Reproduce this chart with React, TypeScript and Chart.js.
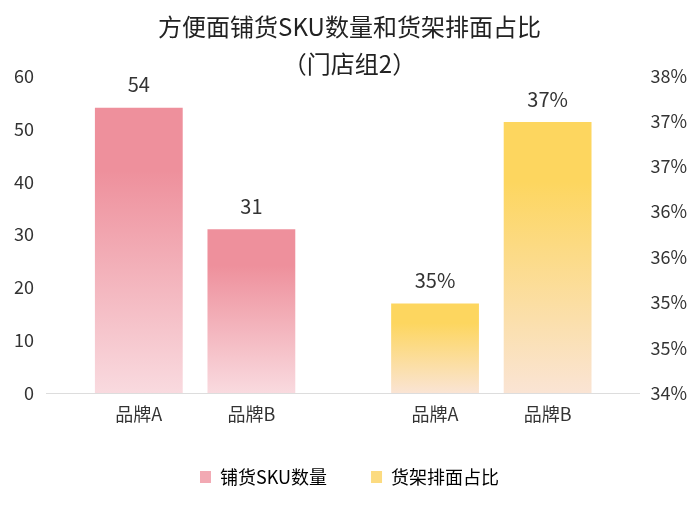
// Grouped bar chart with two y axes: SKU count (left) and shelf share (right)
import { useEffect, useRef } from 'react';
import { Chart, registerables } from 'chart.js';

Chart.register(...registerables);

const FONT = '"Noto Sans CJK SC", "Noto Sans", sans-serif';

// Data
const groups = ['铺货SKU数量', '货架排面占比'];
const brands = ['品牌A', '品牌B'];
const skuCounts = [54, 31];
const shelfShares = [35.13, 37.42]; // percent
const skuTicks = [0, 10, 20, 30, 40, 50, 60];
const shareTicks = [34, 34.57, 35.14, 35.71, 36.29, 36.86, 37.43, 38];

// top colour, bottom colour of each series' fade
const pinkFade = ['#EE909C', '#F9DADF'];
const yellowFade = ['#FDD65F', '#FAE4D4'];

const fadeFill = (stops: string[]) => (c: any) => {
	if (c.type !== 'data' || c.raw == null) return stops[0];
	const chart = c.chart;
	const scale = chart.scales[c.dataset.yAxisID];
	if (!scale) return stops[0];
	const top = scale.getPixelForValue(c.raw);
	const bottom = scale.getBasePixel();
	if (!isFinite(top) || !isFinite(bottom) || bottom <= top) return stops[0];
	const g = chart.ctx.createLinearGradient(0, top, 0, bottom);
	g.addColorStop(0, stops[0]);
	g.addColorStop(0.22, stops[0]);
	g.addColorStop(1, stops[1]);
	return g;
};

// value above each bar, brand name under it
const barLabels = {
	id: 'barLabels',
	afterDatasetsDraw(chart: any) {
		const { ctx, chartArea } = chart;
		ctx.save();
		ctx.textAlign = 'center';
		ctx.textBaseline = 'middle';
		ctx.fillStyle = '#333';
		chart.data.datasets.forEach((ds: any, di: number) => {
			const meta = chart.getDatasetMeta(di);
			meta.data.forEach((bar: any, i: number) => {
				const v = ds.data[i];
				if (v == null) return;
				ctx.font = `20px ${FONT}`;
				const text = ds.yAxisID === 'y1' ? `${Math.round(v)}%` : String(v);
				ctx.fillText(text, bar.x, bar.y - 23);
				ctx.font = `18px ${FONT}`;
				ctx.fillText(ds.brand, bar.x, chartArea.bottom + 21);
			});
		});
		ctx.restore();
	},
};

export default function App() {
	const canvasRef = useRef<HTMLCanvasElement>(null);

	useEffect(() => {
		if (!canvasRef.current) return;
		Chart.defaults.font.family = FONT;

		const datasets = [
			...brands.map((b, i) => ({
				label: groups[0],
				brand: b,
				data: [skuCounts[i], null],
				yAxisID: 'y',
				backgroundColor: fadeFill(pinkFade),
			})),
			...brands.map((b, i) => ({
				label: groups[1],
				brand: b,
				data: [null, shelfShares[i]],
				yAxisID: 'y1',
				backgroundColor: fadeFill(yellowFade),
			})),
		];

		const chart = new Chart(canvasRef.current, {
			type: 'bar',
			data: { labels: groups, datasets: datasets as any },
			options: {
				responsive: true,
				maintainAspectRatio: false,
				animation: false,
				layout: { padding: { left: 1, right: 2, bottom: 12 } },
				datasets: {
					bar: {
						skipNull: true,
						categoryPercentage: 0.76,
						barPercentage: 0.78,
					},
				},
				plugins: {
					title: {
						display: true,
						text: ['方便面铺货SKU数量和货架排面占比', '（门店组2）'],
						color: '#222',
						font: { size: 24, weight: 'normal', lineHeight: '37px' },
						padding: { top: 8.5, bottom: -6.5 },
					},
					legend: {
						position: 'bottom',
						labels: {
							color: '#333',
							font: { size: 18 },
							boxWidth: 11,
							boxHeight: 12,
							padding: 44,
							generateLabels: () =>
								groups.map((g, i) => ({
									text: g,
									fillStyle: i === 0 ? '#F2A9B3' : '#FCDB80',
									strokeStyle: 'transparent',
									lineWidth: 0,
									hidden: false,
									datasetIndex: i * 2,
								})),
						},
					},
					tooltip: { enabled: false },
				},
				scales: {
					x: {
						grid: { display: false, drawTicks: false },
						border: { color: '#ddd' },
						ticks: { display: false },
						afterFit: (scale: any) => {
							scale.height = 31;
						},
					},
					y: {
						position: 'left',
						min: skuTicks[0],
						max: skuTicks[skuTicks.length - 1],
						afterBuildTicks: (scale: any) => {
							scale.ticks = skuTicks.map((v) => ({ value: v }));
						},
						grid: { display: false, drawTicks: false },
						border: { display: false },
						ticks: { color: '#333', font: { size: 18 }, padding: 13 },
					},
					y1: {
						position: 'right',
						min: shareTicks[0],
						max: shareTicks[shareTicks.length - 1],
						afterBuildTicks: (scale: any) => {
							scale.ticks = shareTicks.map((v) => ({ value: v }));
						},
						grid: { display: false, drawTicks: false },
						border: { display: false },
						ticks: {
							color: '#333',
							font: { size: 18 },
							padding: 11,
							callback: (v: any) => `${Math.round(Number(v))}%`,
						},
					},
				},
			} as any,
			plugins: [barLabels],
		});

		return () => chart.destroy();
	}, []);

	return (
		<div style={{ position: 'fixed', left: 0, top: 0, width: 700, height: 508, background: '#fff' }}>
			<canvas ref={canvasRef}></canvas>
		</div>
	);
}
